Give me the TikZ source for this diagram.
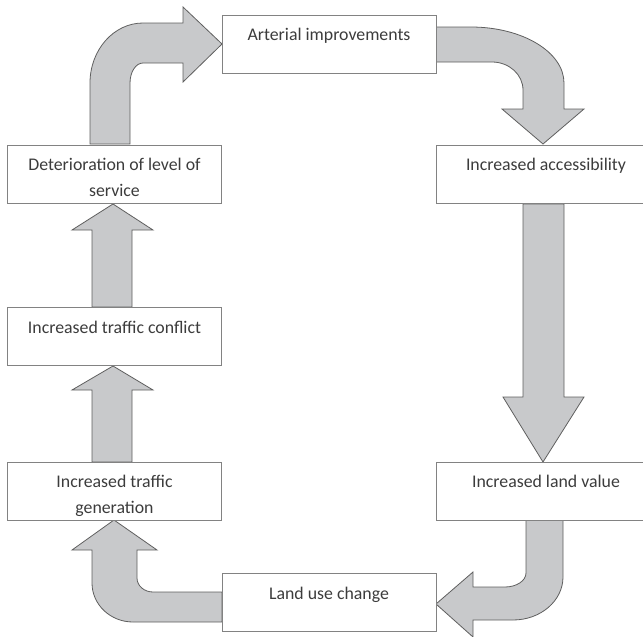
\documentclass[tikz,border=0pt]{standalone}
\usepackage{fontspec}
\setmainfont{Carlito}
\definecolor{arrowfill}{RGB}{200,201,203}
\definecolor{arrowline}{RGB}{95,95,95}
\definecolor{boxline}{RGB}{130,130,130}
\definecolor{textgray}{RGB}{60,60,60}
\begin{document}
\begin{tikzpicture}[x=1pt,y=-1pt,
  stepbox/.style={draw=boxline, line width=0.9pt, fill=white, rectangle,
    minimum width=214pt, minimum height=58pt, inner sep=0pt},
  steptext/.style={anchor=north, yshift=-13.5pt, inner sep=0pt, align=center,
    text=textgray, font=\fontsize{17.8}{26}\selectfont},
  bigarrow/.style={fill=arrowfill, draw=arrowline, line width=0.8pt, line join=miter}]
\useasboundingbox (0,0) rectangle (643,637);

% ---- block arrows (drawn first, under the boxes) ----
% deterioration -> arterial
\draw[bigarrow] (90,144) -- (90,83)
  arc[start angle=180, end angle=270, x radius=53, y radius=60]
  -- (183,23) -- (183,7) -- (222,44) -- (183,82) -- (183,63) -- (143,63)
  arc[start angle=270, end angle=180, x radius=13, y radius=20]
  -- (130,144) -- cycle;
% arterial -> accessibility
\draw[bigarrow] (436,27) -- (471,27)
  arc[start angle=270, end angle=360, x radius=93, y radius=56]
  -- (564,109) -- (584,109) -- (543,144) -- (502,109) -- (523,109) -- (523,90)
  arc[start angle=0, end angle=-90, x radius=31, y radius=28]
  -- (436,62) -- cycle;
% accessibility -> land value
\draw[bigarrow] (523,204) -- (523,397) -- (503,397) -- (543,462) -- (584,397)
  -- (564,397) -- (564,204) -- cycle;
% land value -> land use change
\draw[bigarrow] (526,520) -- (526,573)
  arc[start angle=0, end angle=90, x radius=21, y radius=14]
  -- (473,587) -- (473,572) -- (436,604) -- (473,637) -- (473,620) -- (513,620)
  arc[start angle=90, end angle=0, x radius=50, y radius=43]
  -- (563,520) -- cycle;
% land use change -> traffic generation
\draw[bigarrow] (222,592) -- (153,592)
  arc[start angle=90, end angle=180, x radius=16, y radius=14]
  -- (137,550) -- (157,550) -- (114,520) -- (72,550) -- (92,550) -- (92,583)
  arc[start angle=180, end angle=90, x radius=41, y radius=39]
  -- (222,622) -- cycle;
% traffic generation -> traffic conflict
\draw[bigarrow] (92,462) -- (92,390) -- (72,390) -- (113,366) -- (153,390)
  -- (132,390) -- (132,462) -- cycle;
% traffic conflict -> deterioration
\draw[bigarrow] (92,307) -- (92,230) -- (72,230) -- (113,204) -- (153,230)
  -- (132,230) -- (132,307) -- cycle;

% ---- boxes ----
\node[stepbox, label={[steptext]north:Arterial improvements}] (art) at (329,44) {};
\node[stepbox, label={[steptext, xshift=3pt]north:Increased accessibility}] (acc) at (543,174) {};
\node[stepbox, label={[steptext, xshift=3pt]north:Increased land value}] (val) at (543,491) {};
\node[stepbox, label={[steptext]north:Land use change}] (use) at (329,602.5) {};
\node[stepbox, label={[steptext]north:Increased traffic\\generation}] (gen) at (114.5,491) {};
\node[stepbox, label={[steptext]north:Increased traffic conflict}] (con) at (114.5,336.5) {};
\node[stepbox, label={[steptext]north:Deterioration of level of\\service}] (det) at (114.5,174) {};
\end{tikzpicture}
\end{document}
